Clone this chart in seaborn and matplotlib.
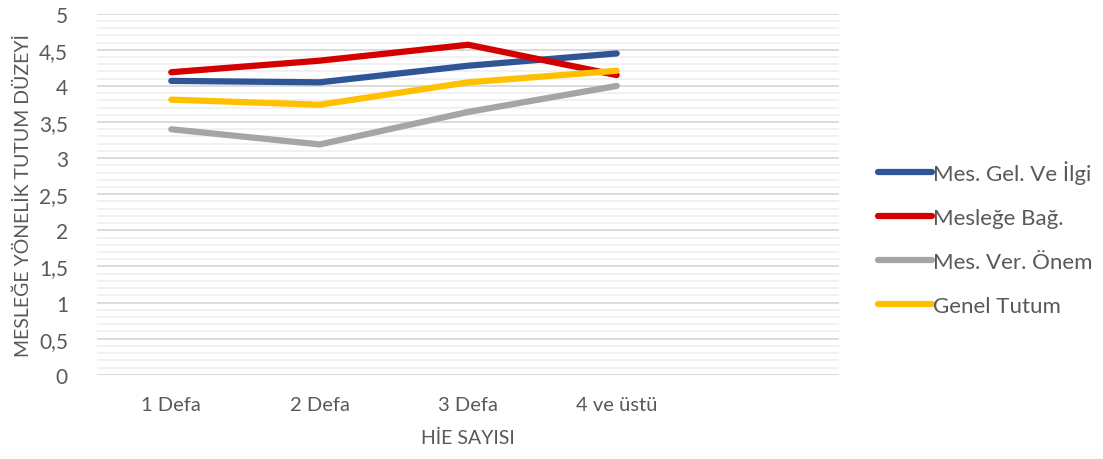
import numpy as np
import matplotlib
matplotlib.use("Agg")
import matplotlib.pyplot as plt
from matplotlib.ticker import MultipleLocator, FuncFormatter
import seaborn as sns
import pandas as pd

# Data
categories = ['1 Defa', '2 Defa', '3 Defa', '4 ve üstü']
gel_ilgi = [4.07, 4.05, 4.28, 4.45]
meslege_bag = [4.19, 4.35, 4.57, 4.15]
ver_onem = [3.40, 3.19, 3.64, 4.00]
genel_tutum = [3.81, 3.74, 4.05, 4.21]

series_names = ['Mes. Gel. Ve İlgi', 'Mesleğe Bağ.', 'Mes. Ver. Önem', 'Genel Tutum']
colors = ['#2F5597', '#D40000', '#A5A5A5', '#FFC000']

rows = []
for name, vals in zip(series_names, [gel_ilgi, meslege_bag, ver_onem, genel_tutum]):
    for c, v in zip(categories, vals):
        rows.append({'kategori': c, 'deger': v, 'seri': name})
df = pd.DataFrame(rows)

sns.set_style('white')
plt.rcParams['font.family'] = ['Lato', 'DejaVu Sans']
txt = '#595959'

fig = plt.figure(figsize=(11.03, 4.6), dpi=100)
ax = fig.add_axes([0.088, 0.183, 0.673, 0.785])

sns.lineplot(data=df, x='kategori', y='deger', hue='seri', palette=colors,
             hue_order=series_names, sort=False, linewidth=4.5,
             solid_capstyle='round', ax=ax)

ax.set_xlim(-0.5, 4.5)
ax.set_ylim(0, 5)
ax.set_xticks(range(len(categories)))
ax.set_xticklabels(categories)
ax.yaxis.set_major_locator(MultipleLocator(0.5))
ax.yaxis.set_minor_locator(MultipleLocator(0.1))
ax.yaxis.set_major_formatter(FuncFormatter(lambda v, p: ('%g' % v).replace('.', ',')))
ax.grid(which='major', axis='y', color='#D9D9D9', linewidth=1.3, zorder=0)
ax.grid(which='minor', axis='y', color='#F0F0F0', linewidth=1.3, zorder=0)
ax.grid(False, axis='x')
ax.set_axisbelow(True)
for s in ax.spines.values():
    s.set_visible(False)
ax.tick_params(axis='both', which='both', length=0, colors=txt)
ax.tick_params(axis='y', labelsize=15, pad=21)
ax.tick_params(axis='x', labelsize=14.5, pad=15)

ax.set_xlabel('HİE SAYISI', fontsize=14, color=txt, labelpad=12)
ax.set_ylabel('MESLEĞE YÖNELİK TUTUM DÜZEYİ', fontsize=14, color=txt, labelpad=5)

handles, labels = ax.get_legend_handles_labels()
for h in handles:
    h.set_linewidth(4.5)
    h.set_solid_capstyle('round')
leg = ax.legend(handles, labels, loc='center left', bbox_to_anchor=(1.025, 0.38),
                frameon=False, fontsize=16, handlelength=2.45, handletextpad=0.02,
                labelspacing=1.08)
for t in leg.get_texts():
    t.set_color(txt)

plt.savefig('out.png', dpi=100)
